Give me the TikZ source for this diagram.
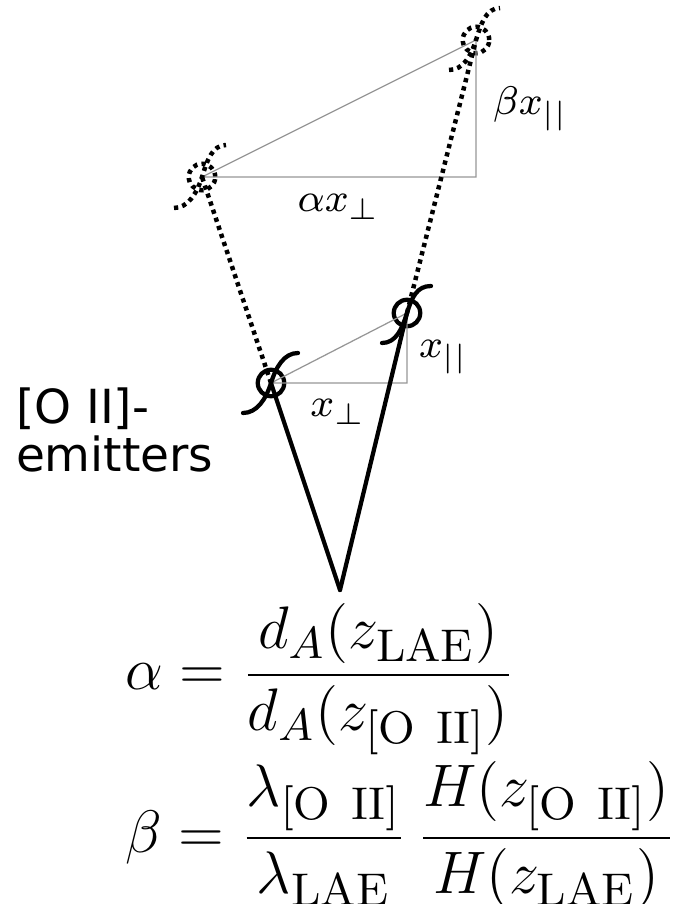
\documentclass[tikz,border=0pt]{standalone}
\usepackage{fontspec}
\newfontfamily\labelsans{DejaVu Sans}
\begin{document}
\begin{tikzpicture}[x=0.2pt,y=-0.2pt,
  emit/.style={circle,draw,line width=0.85pt,minimum size=5.3pt,inner sep=0pt},
  solidln/.style={line width=0.85pt,line cap=round},
  dotln/.style={line width=0.9pt,dash pattern=on 0.85pt off 0.85pt},
  thin gray/.style={line width=0.25pt,draw={rgb,255:red,150;green,150;blue,150}},
  lbl/.style={font=\fontsize{8.3}{10}\selectfont,inner sep=0pt},
  eqn/.style={font=\fontsize{13.1}{15.7}\selectfont,inner sep=0pt,anchor=base west}
]
\useasboundingbox (0,0) rectangle (679,904);
% emitter positions
\coordinate (apex) at (340,590);
\node[emit] (e1) at (271,383) {};
\node[emit] (e2) at (407,313) {};
\node[emit,dotln] (f1) at (202,177) {};
\node[emit,dotln] (f2) at (476,40) {};
% gray triangles
\coordinate (k1) at (e2.center |- e1.center);
\coordinate (k2) at (f2.center |- f1.center);
\draw[thin gray] (e1.center) -- (k1) -- (e2.center) -- cycle;
\draw[thin gray] (f1.center) -- (k2) -- (f2.center) -- cycle;
% lines of sight
\draw[solidln] (apex) -- (e1.center);
\draw[solidln] (apex) -- (e2.center);
\draw[dotln] (e1.center) -- (f1.center);
\draw[dotln] (e2.center) -- (f2.center);
% integral-shaped marks
\draw[solidln] ([shift={(-28,30)}]e1.center) .. controls +(14,0) and +(-5,16) .. (e1.center) .. controls +(5,-16) and +(-14,0) .. ([shift={(27,-30)}]e1.center);
\draw[solidln] ([shift={(-25,30)}]e2.center) .. controls +(14,0) and +(-5,16) .. (e2.center) .. controls +(5,-16) and +(-14,0) .. ([shift={(24,-27)}]e2.center);
\draw[dotln] ([shift={(-28,31)}]f1.center) .. controls +(14,0) and +(-5,16) .. (f1.center) .. controls +(5,-16) and +(-14,0) .. ([shift={(24,-32)}]f1.center);
\draw[dotln] ([shift={(-27,30)}]f2.center) .. controls +(14,0) and +(-5,16) .. (f2.center) .. controls +(5,-16) and +(-14,0) .. ([shift={(24,-32)}]f2.center);
% labels
\node[lbl,anchor=base] (lxp) at (338,417) {$x_\perp$};
\node[lbl,anchor=base west] (lxa) at (418,358) {$x_{||}$};
\node[lbl,anchor=base] (lax) at (339,212) {$\alpha x_\perp$};
\node[lbl,anchor=base west] (lbx) at (492,115) {$\beta x_{||}$};
\node[font=\labelsans\fontsize{9.4}{9.4}\selectfont,align=left,anchor=base west,inner sep=0pt] (txt) at (15,471) {[O II]-\\emitters};
% equations
\node[eqn] (eqa) at (124,689.5) {$\displaystyle\alpha = \frac{d_A(z_{\rm LAE})}{d_A(z_{\rm [O\ II]})}$};
\node[eqn] (eqb) at (124,852.5) {$\displaystyle\beta = \frac{\lambda_{\rm [O\ II]}}{\lambda_{\rm LAE}}\,\frac{H(z_{\rm [O\ II]})}{H(z_{\rm LAE})}$};
\end{tikzpicture}
\end{document}
